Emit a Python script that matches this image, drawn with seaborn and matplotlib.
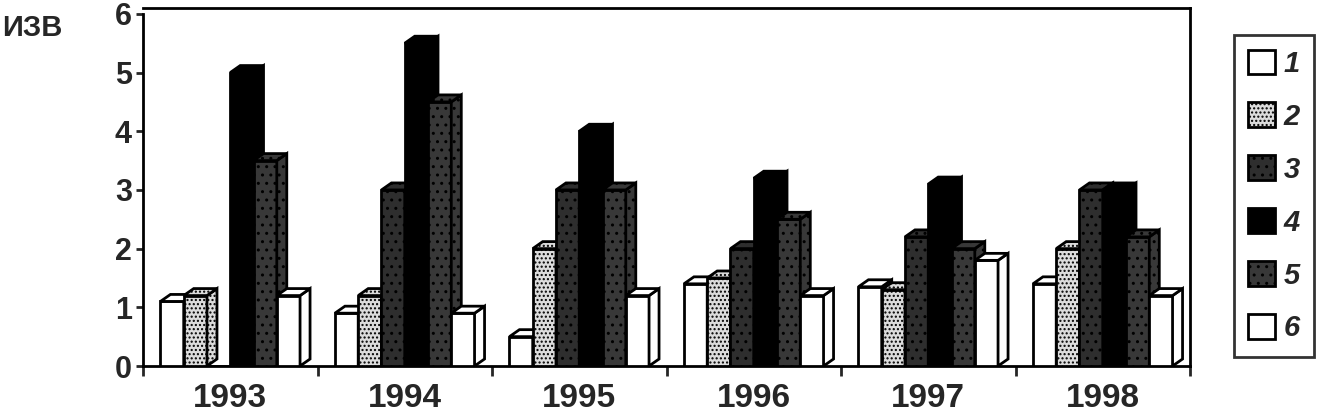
import numpy as np
import pandas as pd
import seaborn as sns
import matplotlib.pyplot as plt
from matplotlib.patches import Polygon, Patch

years = ["1993", "1994", "1995", "1996", "1997", "1998"]
series = ["1", "2", "3", "4", "5", "6"]

s1 = [1.1, 0.9, 0.5, 1.4, 1.35, 1.4]
s2 = [1.2, 1.2, 2.0, 1.5, 1.3, 2.0]
s3 = [0.0, 3.0, 3.0, 2.0, 2.2, 3.0]
s4 = [5.0, 5.5, 4.0, 3.2, 3.1, 3.0]
s5 = [3.5, 4.5, 3.0, 2.5, 2.0, 2.2]
s6 = [1.2, 0.9, 1.2, 1.2, 1.8, 1.2]

fills = ["white", "#dcdcdc", "#2e2e2e", "black", "#383838", "white"]
hatches = ["", "....", "..", "", "..", ""]

rows = []
for name, vals in zip(series, [s1, s2, s3, s4, s5, s6]):
    for y, v in zip(years, vals):
        rows.append({"year": y, "series": name, "value": v})
df = pd.DataFrame(rows)

sns.set_style("white")
plt.rcParams["font.family"] = ["Liberation Sans", "DejaVu Sans"]
plt.rcParams["hatch.color"] = "#909090"

fig = plt.figure(figsize=(13.2, 4.15), dpi=100)
ax = fig.add_axes([143 / 1320, 49 / 415, (1190 - 143) / 1320, (366 - 8) / 415])

sns.barplot(data=df, x="year", y="value", hue="series", order=years,
            hue_order=series, palette=fills, width=0.8, saturation=1,
            edgecolor="black", linewidth=2, legend=False, ax=ax)

ax.set_ylim(0, 6.1)
ax.set_xlim(-0.5, len(years) - 0.5)

# 3d look: side and top faces built from each drawn bar
fig.canvas.draw()
to_data = ax.transData.inverted()
dx, dy = 10, 7
bars = list(ax.patches)
for i, bar in enumerate(bars):
    k = i // len(years)
    bar.set_zorder(3 + k)
    bar.set_hatch(hatches[k])
    if bar.get_height() <= 0:
        continue
    x0, y0 = ax.transData.transform((bar.get_x(), 0))
    x1, y1 = ax.transData.transform((bar.get_x() + bar.get_width(), bar.get_height()))
    side = [(x1, y0), (x1 + dx, y0 + dy), (x1 + dx, y1 + dy), (x1, y1)]
    top = [(x0, y1), (x0 + dx, y1 + dy), (x1 + dx, y1 + dy), (x1, y1)]
    for pts in (side, top):
        poly = Polygon(to_data.transform(pts), closed=True, facecolor=fills[k],
                       edgecolor="black", linewidth=2, hatch=hatches[k],
                       zorder=3 + k)
        ax.add_patch(poly)

# axis frame
for sp in ax.spines.values():
    sp.set_color("black")
    sp.set_linewidth(2)
ax.spines["left"].set_bounds(0, 6)
ax.set_yticks(range(7))
ax.tick_params(axis="y", length=5, width=2, direction="out", left=True,
               labelsize=22, pad=3)
for t in ax.get_yticklabels():
    t.set_fontweight("bold")

ax.set_xticks(np.arange(len(years)))
ax.set_xticklabels(years, fontsize=24, fontweight="bold")
ax.tick_params(axis="x", length=0, pad=12)
ax.set_xticks(np.arange(len(years) + 1) - 0.5, minor=True)
ax.tick_params(axis="x", which="minor", length=7, width=2, direction="out",
               bottom=True)
ax.set_xlabel("")
ax.set_ylabel("")

fig.text(2 / 1320, 1 - 28 / 415, "ИЗВ", fontsize=21, fontweight="bold",
         va="center", ha="left")

handles = [Patch(facecolor=fills[k], edgecolor="black", linewidth=2,
                 hatch=hatches[k]) for k in range(len(series))]
leg = fig.legend(handles, series, loc="center",
                 bbox_to_anchor=(1274 / 1320, 1 - 196 / 415),
                 handlelength=0.9, handleheight=0.9, handletextpad=0.3,
                 labelspacing=0.85, borderpad=0.5, frameon=True, fancybox=False,
                 prop={"style": "italic", "weight": "bold", "size": 21})
leg.get_frame().set_edgecolor("black")
leg.get_frame().set_linewidth(2)

fig.savefig("out.png", dpi=100)
